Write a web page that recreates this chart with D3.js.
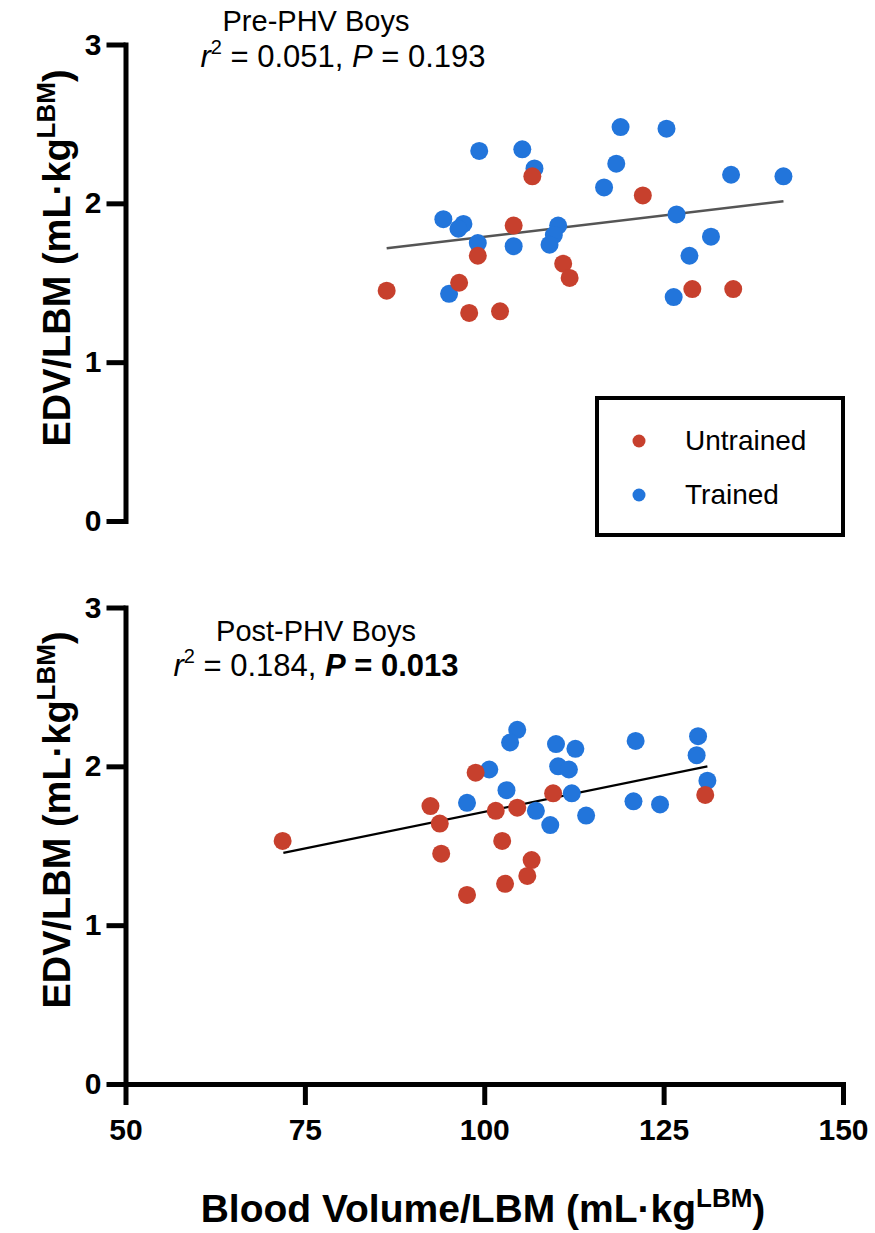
<!DOCTYPE html>
<html>
<head>
<meta charset="utf-8">
<script src="https://cdn.jsdelivr.net/npm/d3@7"></script>
<style>
  body { margin: 0; background: #fff; }
  svg { display: block; font-family: "Liberation Sans", Arial, sans-serif; }
</style>
</head>
<body>
<svg width="875" height="1233"></svg>
<script>
// données (x = volume sanguin/LBM, y = EDV/LBM)
const preTrainedX = [119.0, 125.4, 99.3, 105.3, 107.0, 118.4, 116.7, 134.4, 141.7, 126.8, 94.3, 97.1, 96.4, 99.1, 104.1, 110.3, 109.7, 109.1, 131.6, 128.6, 95.1, 126.4];
const preTrainedY = [2.48, 2.47, 2.33, 2.34, 2.22, 2.25, 2.10, 2.18, 2.17, 1.93, 1.90, 1.87, 1.84, 1.75, 1.73, 1.86, 1.80, 1.74, 1.79, 1.67, 1.43, 1.41];
const preUntrainedX = [106.7, 122.1, 104.1, 99.1, 111.0, 111.9, 96.5, 86.4, 97.9, 102.2, 129.0, 134.7];
const preUntrainedY = [2.17, 2.05, 1.86, 1.67, 1.62, 1.53, 1.50, 1.45, 1.31, 1.32, 1.46, 1.46];
const preFitX = [86.4, 141.7];
const preFitY = [1.717, 2.013];

const postTrainedX = [104.6, 103.6, 110.0, 112.7, 121.1, 129.8, 129.6, 100.7, 110.3, 111.8, 103.1, 112.2, 131.1, 97.6, 107.2, 109.2, 114.2, 120.8, 124.5];
const postTrainedY = [2.23, 2.15, 2.14, 2.11, 2.16, 2.19, 2.07, 1.98, 2.00, 1.98, 1.85, 1.83, 1.91, 1.77, 1.72, 1.63, 1.69, 1.78, 1.76];
const postUntrainedX = [71.9, 98.8, 92.5, 93.8, 94.0, 101.6, 104.6, 102.5, 109.6, 106.6, 106.0, 102.9, 97.6, 130.8];
const postUntrainedY = [1.53, 1.96, 1.75, 1.64, 1.45, 1.72, 1.74, 1.53, 1.83, 1.41, 1.31, 1.26, 1.19, 1.82];
const postFitX = [72.0, 131.1];
const postFitY = [1.455, 2.00];

const xTicks = [50, 75, 100, 125, 150];
const yTicks = [0, 1, 2, 3];
const groups = ["Untrained", "Trained"];

const red = "#c7402d", blue = "#2275db";

const svg = d3.select("svg");

const x = d3.scaleLinear().domain([50, 150]).range([125.5, 843]);
const yTop = d3.scaleLinear().domain([0, 3]).range([521, 44.5]);
const yBot = d3.scaleLinear().domain([0, 3]).range([1084, 607.5]);

const zip = (a, b) => a.map((v, i) => [v, b[i]]);

function panel(y, trained, untrained, fit, fitColor, fitWidth) {
    const g = svg.append("g");
    // droite de régression
    g.append("line")
        .attr("x1", x(fit[0][0])).attr("y1", y(fit[0][1]))
        .attr("x2", x(fit[1][0])).attr("y2", y(fit[1][1]))
        .attr("stroke", fitColor)
        .attr("stroke-width", fitWidth);
    g.selectAll("circle.tr")
        .data(trained)
        .join("circle")
        .attr("class", "tr")
        .attr("cx", d => x(d[0]))
        .attr("cy", d => y(d[1]))
        .attr("r", 9)
        .attr("fill", blue);
    g.selectAll("circle.un")
        .data(untrained)
        .join("circle")
        .attr("class", "un")
        .attr("cx", d => x(d[0]))
        .attr("cy", d => y(d[1]))
        .attr("r", 9)
        .attr("fill", red);
}

panel(yTop, zip(preTrainedX, preTrainedY), zip(preUntrainedX, preUntrainedY), zip(preFitX, preFitY), "#555", 2.5);
panel(yBot, zip(postTrainedX, postTrainedY), zip(postUntrainedX, postUntrainedY), zip(postFitX, postFitY), "#000", 2.2);

// axes
function styleAxis(sel) {
    sel.select(".domain").attr("stroke-width", 5).attr("stroke-linecap", "square");
    sel.selectAll(".tick line").attr("stroke-width", 5);
    sel.selectAll(".tick text")
        .attr("font-size", 30)
        .attr("font-weight", "bold")
        .attr("fill", "#000")
        .attr("font-family", "Liberation Sans, Arial, sans-serif");
}

[yTop, yBot].forEach(y => {
    svg.append("g")
        .attr("transform", "translate(125.5,0)")
        .call(d3.axisLeft(y).tickValues(yTicks).tickFormat(d3.format("d")).tickSize(19).tickSizeOuter(0).tickPadding(5))
        .call(styleAxis);
});

svg.append("g")
    .attr("transform", "translate(0,1084)")
    .call(d3.axisBottom(x).tickValues(xTicks).tickSize(21).tickSizeOuter(0).tickPadding(14))
    .call(styleAxis);

// titres des axes
function unitLabel(t, label) {
    t.append("tspan").text(label + " (mL·kg");
    t.append("tspan").attr("font-size", 26).attr("dy", -15).text("LBM");
    t.append("tspan").attr("dy", 15).text(")");
}

svg.append("text")
    .attr("x", 483).attr("y", 1222)
    .attr("text-anchor", "middle")
    .attr("font-size", 39).attr("font-weight", "bold")
    .call(unitLabel, "Blood Volume/LBM");

[258, 820].forEach(cy => {
    svg.append("text")
        .attr("transform", `translate(70,${cy}) rotate(-90)`)
        .attr("text-anchor", "middle")
        .attr("font-size", 38).attr("font-weight", "bold")
        .call(unitLabel, "EDV/LBM");
});

// titres des panneaux
function statLine(t, r2, p, bold) {
    t.append("tspan").attr("font-style", "italic").text("r");
    t.append("tspan").attr("font-size", 20).attr("dy", -13).text("2");
    t.append("tspan").attr("dy", 13).text(` = ${r2}, `);
    const w = bold ? "bold" : "normal";
    t.append("tspan").attr("font-style", "italic").attr("font-weight", w).text("P");
    t.append("tspan").attr("font-weight", w).text(` = ${p}`);
}

svg.append("text").attr("x", 316).attr("y", 31).attr("text-anchor", "middle")
    .attr("font-size", 29).text("Pre-PHV Boys");
svg.append("text").attr("x", 343).attr("y", 67).attr("text-anchor", "middle")
    .attr("font-size", 31).call(statLine, "0.051", "0.193", false);

svg.append("text").attr("x", 316).attr("y", 641).attr("text-anchor", "middle")
    .attr("font-size", 29).text("Post-PHV Boys");
svg.append("text").attr("x", 316).attr("y", 676).attr("text-anchor", "middle")
    .attr("font-size", 31).call(statLine, "0.184", "0.013", true);

// légende
const leg = svg.append("g");
leg.append("rect")
    .attr("x", 597).attr("y", 398).attr("width", 246).attr("height", 137)
    .attr("fill", "none").attr("stroke", "#000").attr("stroke-width", 4);
const legY = d3.scalePoint().domain(groups).range([441, 495]);
leg.selectAll("circle")
    .data(groups)
    .join("circle")
    .attr("cx", 639).attr("cy", d => legY(d)).attr("r", 6.5)
    .attr("fill", d => d === "Untrained" ? red : blue);
leg.selectAll("text")
    .data(groups)
    .join("text")
    .attr("x", 685).attr("y", d => legY(d) + 9)
    .attr("font-size", 28)
    .text(d => d);
</script>
</body>
</html>
